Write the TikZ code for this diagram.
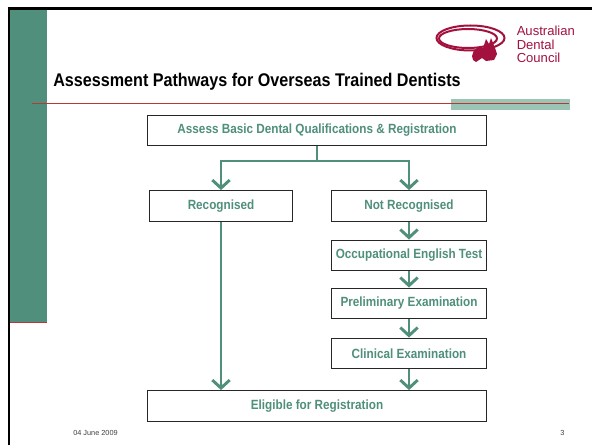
\documentclass[tikz,border=0pt]{standalone}
\usepackage{fontspec}
\setmainfont{Liberation Sans}
\newfontfamily\narrowfont[FakeStretch=0.88]{Liberation Sans}
\usetikzlibrary{positioning,arrows.meta}
\definecolor{bandgreen}{HTML}{4F8F7C}
\definecolor{palegreen}{HTML}{9CC4B4}
\definecolor{rulered}{HTML}{B8383A}
\definecolor{logored}{HTML}{A3123F}
\tikzset{
    pathbox/.style={draw=black!85,line width=0.9pt,fill=white,inner sep=0pt,align=center,
        text=bandgreen,font=\fontsize{10}{11}\narrowfont\bfseries},
    patharrow/.style={draw=bandgreen,line width=2.2pt,-{Straight Barb[length=6pt,width=13pt,line width=2.2pt]}},
    pathline/.style={draw=bandgreen,line width=2.2pt},
    logotext/.style={anchor=base west,inner sep=0pt,text=logored,font=\fontsize{9.8}{10}\selectfont},
    foottext/.style={anchor=base west,inner sep=0pt,text=black!75,font=\fontsize{5.5}{6}\selectfont},
}

\begin{document}
\begin{tikzpicture}[x=0.75pt,y=-0.75pt]
    \useasboundingbox (0,0) rectangle (592,445);
    \fill[white] (0,0) rectangle (592,445);
    % slide frame
    \fill[bandgreen] (9,9) rectangle (47,322);
    \draw[rulered,line width=1.2pt] (8,322.5) -- (47,322.5);
    \draw[black,line width=2pt] (9,445) -- (9,8.5) -- (592,8.5);
    % title and rule
    \fill[palegreen] (451,99) rectangle (570,110.5);
    \draw[rulered,line width=0.9pt] (32,103.5) -- (569,103.5);
    \node[anchor=base west,inner sep=0pt,font=\fontsize{13.76}{15}\narrowfont\bfseries] (title) at (53,87) {Assessment Pathways for Overseas Trained Dentists};
    % logo
    \draw[logored,line width=1.5pt] (470.5,38) ellipse (34 and 12.5);
    \draw[logored,line width=1.5pt] (468,38.5) ellipse (29 and 9.5);
    \fill[logored] (472,56) -- (474,50) -- (480,46) -- (483,48) -- (486,39) -- (489,44) -- (491,38) -- (495,48) -- (497,54) -- (494,60) -- (486,61) -- (482,58) -- (476,62) -- (473,60) -- cycle;
    \node[logotext] (australian) at (516.5,36) {Australian};
    \node[logotext] (dental) at (516.5,50) {Dental};
    \node[logotext] (council) at (516.5,63) {Council};
    % boxes
    \node[pathbox,minimum width=254pt,minimum height=23pt] (assess) at (317,130.5) {Assess Basic Dental Qualifications \& Registration};
    \node[pathbox,minimum width=107pt,minimum height=23pt] (recog) at (221,206) {Recognised};
    \node[pathbox,minimum width=116pt,minimum height=23pt] (notrecog) at (409,206) {Not Recognised};
    \node[pathbox,minimum width=116pt,minimum height=23pt] (english) at (409,255.5) {Occupational English Test};
    \node[pathbox,minimum width=116pt,minimum height=23pt] (prelim) at (409,303.5) {Preliminary Examination};
    \node[pathbox,minimum width=116pt,minimum height=23pt] (clinical) at (409,353.5) {Clinical Examination};
    \node[pathbox,minimum width=254pt,minimum height=23pt] (eligible) at (317,406) {Eligible for Registration};
    % connectors
    \coordinate (fork) at (317,161);
    \draw[pathline] (assess.south -| fork) -- (fork);
    \draw[patharrow] (fork) -| (recog.north);
    \draw[patharrow] (fork) -| (notrecog.north);
    \draw[patharrow] (recog.south) -- (recog.south |- eligible.north);
    \draw[patharrow] (notrecog) -- (english);
    \draw[patharrow] (english) -- (prelim);
    \draw[patharrow] (prelim) -- (clinical);
    \draw[patharrow] (clinical) -- (eligible.north -| clinical);
    % footer
    \node[foottext] (date) at (73,435.5) {04 June 2009};
    \node[foottext] (page) at (560,435.5) {3};
\end{tikzpicture}
\end{document}
